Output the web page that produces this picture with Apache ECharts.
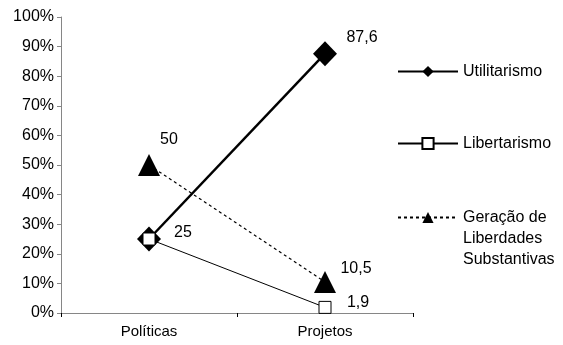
<!DOCTYPE html>
<html>
<head>
<meta charset="utf-8">
<script src="https://cdn.jsdelivr.net/npm/echarts@6/dist/echarts.min.js"></script>
<style>
html,body{margin:0;padding:0;background:#fff;}
#chart{width:563px;height:345px;}
</style>
</head>
<body>
<div id="chart"></div>
<script>
var categories = ['Políticas', 'Projetos'];
var utilitarismo = [25, 87.6];
var libertarismo = [25, 1.9];
var geracao = [50, 10.5];
var seriesNames = ['Utilitarismo', 'Libertarismo', 'Geração de\nLiberdades\nSubstantivas'];

var FONT = 'Liberation Sans, Arial, sans-serif';
function fmt(v) { return String(v).replace('.', ','); }

// label offsets per series/point (null = no label)
var labelOffsets = [
  [null, [37, -16]],
  [[34, -6], [33, -5]],
  [[20, -25], [31, -13]]
];

function buildData(values, si) {
  return values.map(function (v, i) {
    var off = labelOffsets[si][i];
    var item = { value: v };
    if (off) {
      item.label = {
        show: true, position: 'inside', offset: off,
        formatter: function (p) { return fmt(p.value); },
        color: '#000', fontSize: 16, fontFamily: FONT
      };
    }
    return item;
  });
}

var legendText = { color: '#000', fontSize: 16, fontFamily: FONT, lineHeight: 21 };
var chart = echarts.init(document.getElementById('chart'));
var option = {
  animation: false,
  backgroundColor: '#fff',
  grid: { left: 61, right: 150, top: 17, bottom: 32 },
  legend: [
    { data: [seriesNames[0]], left: 397, top: 61, orient: 'vertical', padding: 0,
      itemWidth: 60, itemHeight: 14, itemGap: 0, textStyle: legendText },
    { data: [seriesNames[1]], left: 397, top: 133, orient: 'vertical', padding: 0,
      itemWidth: 60, itemHeight: 14, itemGap: 0, textStyle: legendText },
    { data: [seriesNames[2]], left: 397, top: 165, orient: 'vertical', padding: 0,
      itemWidth: 60, itemHeight: 14, itemGap: 0, textStyle: legendText,
      formatter: function (name) { return ' \n \n' + name; } }
  ],
  xAxis: {
    type: 'category',
    data: categories,
    boundaryGap: true,
    axisLine: { lineStyle: { color: '#868686', width: 1 } },
    axisTick: { show: true, length: 4, lineStyle: { color: '#000' } },
    axisLabel: { color: '#000', fontSize: 15, fontFamily: FONT, margin: 11 }
  },
  yAxis: {
    type: 'value',
    min: 0, max: 100, interval: 10,
    splitLine: { show: false },
    axisLine: { show: true, lineStyle: { color: '#868686', width: 1 } },
    axisTick: { show: true, length: 4, lineStyle: { color: '#868686' } },
    axisLabel: { color: '#000', fontSize: 16, fontFamily: FONT, margin: 7, formatter: '{value}%' }
  },
  series: [
    {
      name: seriesNames[0], type: 'line', data: buildData(utilitarismo, 0),
      symbol: 'diamond', symbolSize: [24, 25],
      lineStyle: { color: '#000', width: 2.5 },
      itemStyle: { color: '#000' },
      emphasis: { disabled: true }, z: 2
    },
    {
      name: seriesNames[1], type: 'line', data: buildData(libertarismo, 1),
      symbol: 'rect', symbolSize: 12,
      lineStyle: { color: '#000', width: 1 },
      itemStyle: { color: '#fff', borderColor: '#000', borderWidth: 1 },
      emphasis: { disabled: true }, z: 3
    },
    {
      name: seriesNames[2], type: 'line', data: buildData(geracao, 2),
      symbol: 'triangle', symbolSize: 22,
      lineStyle: { color: '#000', width: 1.2, type: [3, 3] },
      itemStyle: { color: '#000' },
      emphasis: { disabled: true }, z: 4
    }
  ]
};
chart.setOption(option);
</script>
</body>
</html>
